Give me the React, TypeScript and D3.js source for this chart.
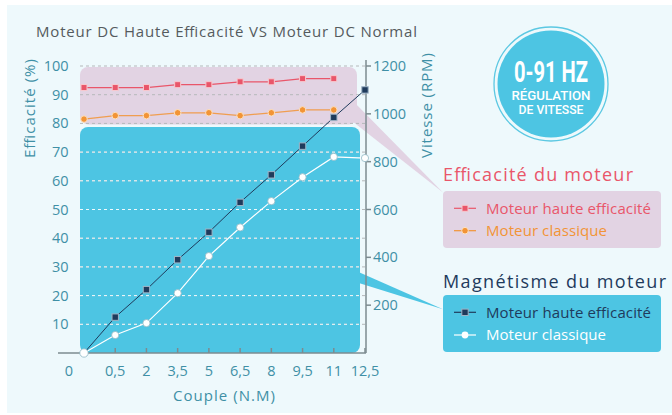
import React from "react";
import * as d3 from "d3";

const categories = ["0", "0,5", "2", "3,5", "5", "6,5", "8", "9,5", "11", "12,5"];
const efficiencyHigh = [92.5, 92.5, 92.5, 93.5, 93.5, 94.5, 94.5, 95.6, 95.6];
const efficiencyClassic = [81.5, 82.7, 82.7, 83.7, 83.7, 82.7, 83.7, 84.7, 84.7];
const speedHigh = [0, 150, 265, 390, 505, 630, 745, 865, 985, 1100];
const speedClassic = [0, 75, 125, 250, 405, 525, 635, 735, 820, 815];
const leftTicks = [10, 20, 30, 40, 50, 60, 70, 80, 90, 100];
const rightTicks = [200, 400, 600, 800, 1000, 1200];
const originLabel = "0";

const TEAL = "#3f90a6";
const BLUE = "#4dc5e3";
const PINK = "#e2d3e3";
const RED = "#e9566a";
const ORANGE = "#f29436";
const NAVY = "#1f3b5c";
const AXIS = "#7d8b90";
const FONT = "'Open Sans', sans-serif";

export default function App() {
  const W = 672, H = 415;
  const x = d3.scalePoint<string>().domain(categories).range([84, 365]);
  const yL = d3.scaleLinear().domain([0, 100]).range([353, 66]);
  const yR = d3.scaleLinear().domain([0, 1200]).range([353, 66]);
  const xi = (i: number) => x(categories[i]) as number;

  const lineL = d3.line<number>().x((_, i) => xi(i)).y((d) => yL(d));
  const lineR = d3.line<number>().x((_, i) => xi(i)).y((d) => yR(d));

  const plotLeft = 80;
  const axisX = 366;
  const pinkTop = yL(100) + 1;
  const pinkBottom = yL(80) + 1;
  const blueTop = yL(80) + 3.6;
  const baseY = yL(0);

  return (
    <svg width={W} height={H} style={{ position: "fixed", left: 0, top: 0 }} fontFamily={FONT}>
      <defs>
        <clipPath id="blueClip">
          <rect x={plotLeft} y={blueTop} width={360 - plotLeft} height={baseY - blueTop} rx={8} />
        </clipPath>
      </defs>
      <rect x={0} y={0} width={W} height={H} fill="#ffffff" />
      <rect x={7} y={5} width={W - 7} height={408} fill="#eef9fc" />

      {/* title */}
      <text x={36} y={37} fontSize={15} fill="#555b5e" textLength={381} lengthAdjust="spacing">
        Moteur DC Haute Efficacité VS Moteur DC Normal
      </text>

      {/* callout wedges */}
      <polygon points="352,100 443,192.5 352,121" fill={PINK} />
      <polygon points="350,268.3 443,309.3 350,280.2" fill={BLUE} />

      {/* background regions */}
      <rect x={plotLeft} y={pinkTop} width={357 - plotLeft} height={pinkBottom - pinkTop} rx={8} fill={PINK} />
      <rect x={plotLeft} y={blueTop} width={360 - plotLeft} height={baseY - blueTop} rx={8} fill={BLUE} />

      {/* gridlines */}
      {leftTicks.map((t) => (
        <line key={"g" + t} x1={plotLeft} x2={axisX} y1={yL(t)} y2={yL(t)} stroke="#b5b8ba" strokeDasharray="3,3" strokeWidth={1} />
      ))}
      <g clipPath="url(#blueClip)">
        {leftTicks.map((t) => (
          <line key={"w" + t} x1={plotLeft} x2={axisX} y1={yL(t)} y2={yL(t)} stroke="#eefafd" strokeDasharray="3,3" strokeWidth={1} />
        ))}
      </g>

      {/* axes */}
      <line x1={58} x2={axisX} y1={baseY} y2={baseY} stroke={AXIS} strokeWidth={1.5} />
      <line x1={axisX} x2={axisX} y1={60} y2={baseY} stroke={AXIS} strokeWidth={1.5} />
      {categories.slice(1).map((c) => (
        <line key={"xt" + c} x1={x(c)} x2={x(c)} y1={baseY} y2={baseY - 5} stroke={AXIS} strokeWidth={1.5} />
      ))}
      {rightTicks.map((t) => (
        <line key={"rt" + t} x1={axisX} x2={axisX + 5} y1={yR(t)} y2={yR(t)} stroke={AXIS} strokeWidth={1.5} />
      ))}

      {/* tick labels */}
      {leftTicks.map((t) => (
        <text key={"ll" + t} x={68.5} y={yL(t) + 5} fontSize={14.5} fill={TEAL} textAnchor="end">{t}</text>
      ))}
      <text x={69} y={376} fontSize={14.5} fill={TEAL} textAnchor="middle">{originLabel}</text>
      {categories.slice(1).map((c) => (
        <text key={"xl" + c} x={x(c)} y={376} fontSize={14.5} fill={TEAL} textAnchor="middle">{c}</text>
      ))}
      {rightTicks.map((t) => (
        <text key={"rl" + t} x={373} y={yR(t) + 5} fontSize={14.5} fill={TEAL}>{t}</text>
      ))}

      {/* axis titles */}
      <text transform="translate(35,108.5) rotate(-90)" fontSize={15} fill={TEAL} textAnchor="middle" textLength={99} lengthAdjust="spacing">Efficacité (%)</text>
      <text transform="translate(432,105.5) rotate(-90)" fontSize={15} fill={TEAL} textAnchor="middle" textLength={105} lengthAdjust="spacing">Vitesse (RPM)</text>
      <text x={224} y={401} fontSize={15} fill={TEAL} textAnchor="middle" textLength={102} lengthAdjust="spacing">Couple (N.M)</text>

      {/* series lines */}
      <path d={lineL(efficiencyHigh) || ""} fill="none" stroke={RED} strokeWidth={1.2} />
      <path d={lineL(efficiencyClassic) || ""} fill="none" stroke={ORANGE} strokeWidth={1.2} opacity={0.85} />
      <path d={lineR(speedHigh) || ""} fill="none" stroke={NAVY} strokeWidth={1} />
      <path d={lineR(speedClassic) || ""} fill="none" stroke="#ffffff" strokeWidth={1.2} />

      {/* markers */}
      {efficiencyHigh.map((v, i) => (
        <rect key={"mr" + i} x={xi(i) - 3} y={yL(v) - 3} width={6} height={6} fill={RED} stroke="#f7c9cf" strokeWidth={1} />
      ))}
      {efficiencyClassic.map((v, i) => (
        <circle key={"mo" + i} cx={xi(i)} cy={yL(v)} r={3.3} fill={ORANGE} stroke="#fde3c6" strokeWidth={1} />
      ))}
      {speedHigh.map((v, i) =>
        i === 0 ? null : (
          <rect key={"mn" + i} x={xi(i) - 3.2} y={yR(v) - 3.2} width={6.4} height={6.4} fill={NAVY} stroke="#9fb4c6" strokeWidth={1} />
        )
      )}
      {speedClassic.map((v, i) => (
        <circle key={"mw" + i} cx={xi(i)} cy={yR(v)} r={i === 0 ? 4.2 : 3.6} fill="#ffffff" stroke="#8fb8c4" strokeWidth={0.8} />
      ))}

      {/* badge */}
      <circle cx={551} cy={84} r={57} fill="none" stroke="#5cc8e2" strokeWidth={1.3} />
      <circle cx={551} cy={84} r={53.5} fill={BLUE} />
      <text x={551} y={81.5} fontSize={30} fontWeight={700} fill="#ffffff" textAnchor="middle" fontFamily="Roboto, sans-serif" textLength={74} lengthAdjust="spacingAndGlyphs">0-91 HZ</text>
      <text x={551} y={99.5} fontSize={12} fontWeight={500} fill="#ffffff" textAnchor="middle" fontFamily="Roboto, sans-serif" textLength={79} lengthAdjust="spacingAndGlyphs">RÉGULATION</text>
      <text x={551} y={114.3} fontSize={12} fontWeight={500} fill="#ffffff" textAnchor="middle" fontFamily="Roboto, sans-serif" textLength={65} lengthAdjust="spacingAndGlyphs">DE VITESSE</text>

      {/* legend: efficiency */}
      <text x={443} y={180.5} fontSize={18} fill={RED} textLength={190} lengthAdjust="spacing">Efficacité du moteur</text>
      <rect x={443} y={191} width={218} height={57} rx={4} fill={PINK} />
      <line x1={454} x2={476} y1={208.3} y2={208.3} stroke={RED} strokeWidth={1.2} />
      <rect x={462} y={205.3} width={6} height={6} fill={RED} stroke="#f7c9cf" strokeWidth={1} />
      <text x={486} y={213.5} fontSize={15} fill={RED} textLength={165} lengthAdjust="spacing">Moteur haute efficacité</text>
      <line x1={454} x2={476} y1={230.7} y2={230.7} stroke={ORANGE} strokeWidth={1.2} />
      <circle cx={465} cy={230.7} r={3.3} fill={ORANGE} stroke="#fde3c6" strokeWidth={1} />
      <text x={486} y={235.9} fontSize={15} fill={ORANGE} textLength={121} lengthAdjust="spacing">Moteur classique</text>

      {/* legend: magnetism */}
      <text x={443} y={287.5} fontSize={18} fill={NAVY} textLength={223} lengthAdjust="spacing">Magnétisme du moteur</text>
      <rect x={443} y={295} width={218} height={57} rx={4} fill={BLUE} />
      <line x1={454} x2={476} y1={312.3} y2={312.3} stroke={NAVY} strokeWidth={1.2} />
      <rect x={461.8} y={309.1} width={6.4} height={6.4} fill={NAVY} stroke="#9fb4c6" strokeWidth={1} />
      <text x={486} y={317.5} fontSize={15} fill={NAVY} textLength={165} lengthAdjust="spacing">Moteur haute efficacité</text>
      <line x1={454} x2={476} y1={335} y2={335} stroke="#ffffff" strokeWidth={1.2} />
      <circle cx={465} cy={335} r={3.4} fill="#ffffff" />
      <text x={486} y={340.2} fontSize={15} fill="#ffffff" textLength={120} lengthAdjust="spacing">Moteur classique</text>
    </svg>
  );
}
